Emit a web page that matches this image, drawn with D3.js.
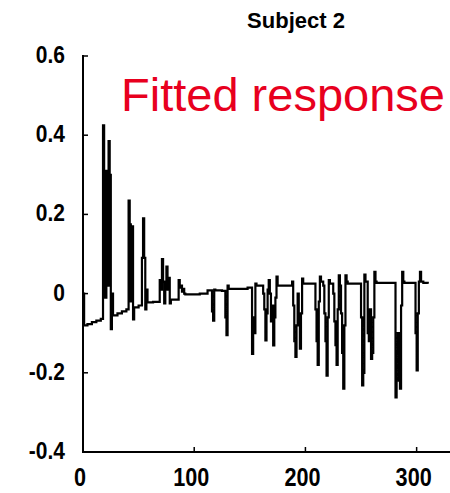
<!DOCTYPE html>
<html>
<head>
<meta charset="utf-8">
<script src="https://cdn.jsdelivr.net/npm/d3@7"></script>
<style>
  html, body { margin: 0; padding: 0; background: #fff; }
  svg { display: block; }
  .tick-label { font-family: "Liberation Sans", Arial, sans-serif; font-weight: bold; font-size: 21px; fill: #000; }
</style>
</head>
<body>
<svg id="chart" width="450" height="493"></svg>
<script>
// Fitted response time course (scan index, amplitude)
const scans = [
  0, 1, 4, 8, 12, 16, 18, 19, 20, 21, 22, 23, 24, 25, 26, 27, 31, 35, 39,
  41, 42, 43, 44, 45, 46, 50, 53, 54, 55, 56, 57, 58, 63,
  69, 70, 71, 72, 73, 74, 75, 76, 77, 78, 79, 86, 87, 88, 89, 90, 91, 92, 105,
  112, 116, 117, 118, 119, 125, 128, 129, 130, 131, 140, 148,
  152, 153, 154, 155, 156, 160, 162, 163, 164, 165, 166, 167, 168, 169, 170,
  171, 172, 173, 174, 175, 180, 186, 188, 189, 190, 191, 192, 193, 194, 195,
  196, 197, 198, 208, 209, 210, 211, 212, 213, 214, 216, 217, 218, 219, 220,
  221, 222, 225, 226, 227, 228, 229, 230, 231, 232, 233, 234, 235, 236, 237,
  238, 249, 250, 251, 252, 253, 254, 256, 257, 258, 259, 260, 261, 262, 263,
  264, 280, 281, 282, 283, 284, 285, 286, 287, 288, 289, 298, 299, 300, 301,
  302, 303, 304, 306, 310
];
const response = [
  0.0, -0.08, -0.077, -0.072, -0.068, -0.064, 0.425, 0.31, -0.01, 0.31, 0.02, 0.385, 0.3, -0.09, 0.0, -0.055, -0.05, -0.045, -0.04,
  0.235, 0.175, -0.02, 0.17, -0.065, -0.035, -0.03, 0.09, 0.19, 0.09, -0.04, 0.01, -0.022, -0.021,
  0.034, 0.01, 0.087, 0.03, -0.025, 0.02, 0.068, 0.01, 0.04, -0.025, -0.015, 0.034, 0.015, 0.02, 0.005, 0.012, 0.0, -0.002, 0.0,
  0.008, -0.045, -0.068, 0.01, 0.008, 0.007, -0.06, -0.105, 0.02, 0.012, 0.012, 0.015,
  -0.152, -0.06, -0.1, 0.025, 0.02, 0.02, 0.0, -0.04, -0.118, -0.05, 0.01, 0.034, 0.0, -0.07, -0.03,
  -0.131, -0.06, -0.01, 0.043, 0.02, 0.02, 0.02, 0.03, -0.03, -0.12, -0.16, -0.08, 0.0, -0.06, -0.139,
  -0.05, 0.038, 0.025, 0.025, -0.04, -0.12, -0.18, -0.02, 0.043, 0.03, 0.02, -0.05, -0.12, -0.207, -0.06,
  0.034, 0.025, 0.0, -0.07, -0.13, -0.18, -0.04, 0.046, 0.02, -0.05, -0.15, -0.24, -0.08, 0.046, 0.03,
  0.025, 0.025, -0.06, -0.232, -0.2, 0.048, 0.03, -0.1, -0.12, -0.04, -0.165, -0.15, -0.06, 0.055, 0.03,
  0.027, 0.027, -0.262, -0.15, -0.1, -0.22, -0.24, -0.03, 0.055, 0.03, 0.027, 0.027, -0.1, -0.194, -0.05,
  0.03, 0.055, 0.03, 0.027, 0.025
];
const xTicks = [0, 100, 200, 300];
const yTicks = [-0.4, -0.2, 0, 0.2, 0.4, 0.6];
const yTickText = ["-0.4", "-0.2", "0", "0.2", "0.4", "0.6"];
const titleText = "Subject 2";
const overlayText = "Fitted response";

const svg = d3.select("#chart");
const x = d3.scaleLinear().domain([0, 330]).range([83, 450]);
const y = d3.scaleLinear().domain([-0.4, 0.6]).range([452, 56]);

const points = scans.map((s, i) => [s, response[i]]);

// axis lines (left and bottom only)
svg.append("line").attr("x1", x(0)).attr("x2", x(0)).attr("y1", y(0.6) - 1).attr("y2", y(-0.4) + 1)
  .attr("stroke", "#000").attr("stroke-width", 2);
svg.append("line").attr("x1", x(0) - 1).attr("x2", x(330)).attr("y1", y(-0.4)).attr("y2", y(-0.4))
  .attr("stroke", "#000").attr("stroke-width", 2);

// inward ticks
svg.selectAll(".ytick").data(yTicks).enter().append("line")
  .attr("x1", x(0)).attr("x2", x(0) + 5).attr("y1", d => y(d)).attr("y2", d => y(d))
  .attr("stroke", "#000").attr("stroke-width", 1.5);
svg.selectAll(".xtick").data(xTicks).enter().append("line")
  .attr("x1", d => x(d)).attr("x2", d => x(d)).attr("y1", y(-0.4)).attr("y2", y(-0.4) - 5)
  .attr("stroke", "#000").attr("stroke-width", 1.5);

// tick labels (slightly tall glyphs)
svg.selectAll(".ylab").data(yTicks).enter().append("text")
  .attr("class", "tick-label")
  .attr("transform", d => `translate(65,${y(d) + 7}) scale(1,1.12)`)
  .attr("text-anchor", "end")
  .text((d, i) => yTickText[i]);
svg.selectAll(".xlab").data(xTicks).enter().append("text")
  .attr("class", "tick-label")
  .attr("transform", d => `translate(${x(d) - 3},486) scale(1.03,1.2)`)
  .attr("text-anchor", "middle")
  .text(d => d);

// response trace
const line = d3.line().x(d => x(d[0])).y(d => y(d[1])).curve(d3.curveStepAfter);
svg.append("path").datum(points)
  .attr("d", line).attr("fill", "none").attr("stroke", "#000")
  .attr("stroke-width", 2.2).attr("stroke-linejoin", "miter");

// title
svg.append("text").attr("x", 296).attr("y", 28).attr("text-anchor", "middle")
  .style("font-family", "'Liberation Sans', Arial, sans-serif").style("font-weight", "bold")
  .style("font-size", "22px").text(titleText);

// overlay label
svg.append("text").attr("x", 121).attr("y", 111)
  .style("font-family", "'Liberation Sans', Arial, sans-serif")
  .style("font-size", "47px").style("fill", "#e8001e").text(overlayText);
</script>
</body>
</html>
